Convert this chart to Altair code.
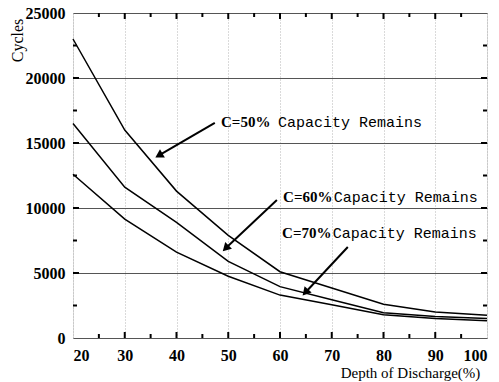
import altair as alt
import pandas as pd

dod = [20, 30, 40, 50, 60, 70, 80, 90, 100]
c50 = [23000, 16000, 11300, 7900, 5100, 3850, 2600, 2000, 1750]
c60 = [16500, 11600, 8900, 5900, 3950, 2950, 1950, 1650, 1500]
c70 = [12600, 9150, 6600, 4750, 3300, 2550, 1780, 1500, 1330]
series_names = ["C=50%", "C=60%", "C=70%"]

x_major = [30, 40, 50, 60, 70, 80, 90]
x_minor = [25, 35, 45, 55, 65, 75, 85, 95]
y_major = [5000, 10000, 15000, 20000]
y_minor = [2500, 7500, 12500, 17500, 22500]

ann_label = ["C=50%", "C=60%", "C=70%"]
ann_x_bold = [48.6, 60.6, 60.4]
ann_x_mono = [59.6, 70.4, 70.2]
ann_y = [16615, 10850, 8080]
ann_text = ["Capacity Remains", "Capacity Remains", "Capacity Remains"]
arr_x1 = [47.4, 59.4, 73.1]
arr_y1 = [16540, 10615, 7000]
arr_x2 = [36.6, 49.5, 64.9]
arr_y2 = [14040, 6900, 3500]
arr_angle = [239, 225, 222]

W, H = 414, 325

rows = []
for name, vals in zip(series_names, [c50, c60, c70]):
    for d, v in zip(dod, vals):
        rows.append({"dod": d, "cycles": v, "series": name})
df = pd.DataFrame(rows)

xs = alt.Scale(domain=[20, 100], nice=False, zero=False)
ys = alt.Scale(domain=[0, 25000], nice=False)

lines = alt.Chart(df).mark_line(color="black", strokeWidth=1.5).encode(
    x=alt.X("dod:Q", scale=xs,
            axis=alt.Axis(values=list(range(20, 101, 10)), format="d", ticks=False, domain=False,
                          labelFont="Liberation Serif", labelFontWeight="bold", labelFontSize=16,
                          labelColor="black", labelPadding=9,
                          grid=True, gridColor="#b5b5b5", gridDash=[1, 2], gridWidth=1,
                          title="Depth of Discharge(%)", titleFont="Liberation Serif",
                          titleFontWeight="normal", titleFontSize=15, titleColor="black",
                          titleX=337, titleY=39, titleBaseline="alphabetic", titleAnchor="middle")),
    y=alt.Y("cycles:Q", scale=ys,
            axis=alt.Axis(values=[0, 5000, 10000, 15000, 20000, 25000], format="d", ticks=False,
                          domain=False, labelFont="Liberation Serif", labelFontWeight="bold",
                          labelFontSize=16, labelColor="black", labelPadding=8,
                          grid=True, gridColor="#555555", gridWidth=1,
                          title="Cycles", titleFont="Liberation Serif", titleFontWeight="normal",
                          titleFontSize=16, titleColor="black", titleAngle=-90,
                          titleX=-56, titleY=27, titleAlign="center", titleBaseline="middle")),
    detail="series:N",
)

layers = [lines]
for kind in ["major", "minor"]:
    L = 6 if kind == "major" else 4
    xv = pd.DataFrame({"v": x_major if kind == "major" else x_minor})
    yv = pd.DataFrame({"v": y_major if kind == "major" else y_minor})
    layers.append(alt.Chart(xv).mark_rule(color="black", strokeWidth=2).encode(
        x=alt.X("v:Q", scale=xs), y=alt.value(H), y2=alt.value(H - L)))
    layers.append(alt.Chart(xv).mark_rule(color="black", strokeWidth=2).encode(
        x=alt.X("v:Q", scale=xs), y=alt.value(0), y2=alt.value(L)))
    layers.append(alt.Chart(yv).mark_rule(color="black", strokeWidth=2).encode(
        y=alt.Y("v:Q", scale=ys), x=alt.value(0), x2=alt.value(L)))
    layers.append(alt.Chart(yv).mark_rule(color="black", strokeWidth=2).encode(
        y=alt.Y("v:Q", scale=ys), x=alt.value(W), x2=alt.value(W - L)))

ann = pd.DataFrame({"label": ann_label, "xb": ann_x_bold, "xm": ann_x_mono, "y": ann_y,
                    "txt": ann_text, "x1": arr_x1, "y1": arr_y1, "x2": arr_x2, "y2": arr_y2,
                    "ang": arr_angle})

layers.append(alt.Chart(ann).mark_text(font="Liberation Serif", fontWeight="bold", fontSize=15,
                                       align="left", baseline="middle", color="black").encode(
    x=alt.X("xb:Q", scale=xs), y=alt.Y("y:Q", scale=ys), text="label:N"))
layers.append(alt.Chart(ann).mark_text(font="Liberation Mono", fontSize=15,
                                       align="left", baseline="middle", color="black").encode(
    x=alt.X("xm:Q", scale=xs), y=alt.Y("y:Q", scale=ys), text="txt:N"))
layers.append(alt.Chart(ann).mark_rule(color="black", strokeWidth=2).encode(
    x=alt.X("x1:Q", scale=xs), y=alt.Y("y1:Q", scale=ys),
    x2="x2:Q", y2="y2:Q"))
layers.append(alt.Chart(ann).mark_point(shape="triangle-up", filled=True, color="black",
                                        size=90, opacity=1).encode(
    x=alt.X("x2:Q", scale=xs), y=alt.Y("y2:Q", scale=ys),
    angle=alt.Angle("ang:Q", scale=None)))

chart = alt.layer(*layers).properties(
    width=W, height=H,
    autosize=alt.AutoSizeParams(type="none"),
    padding={"left": 65, "top": 5, "right": 4, "bottom": 44},
).configure_view(stroke="black", strokeWidth=3).configure(background="white")

chart.save("out.html", embed_options={"renderer": "svg", "actions": False})
